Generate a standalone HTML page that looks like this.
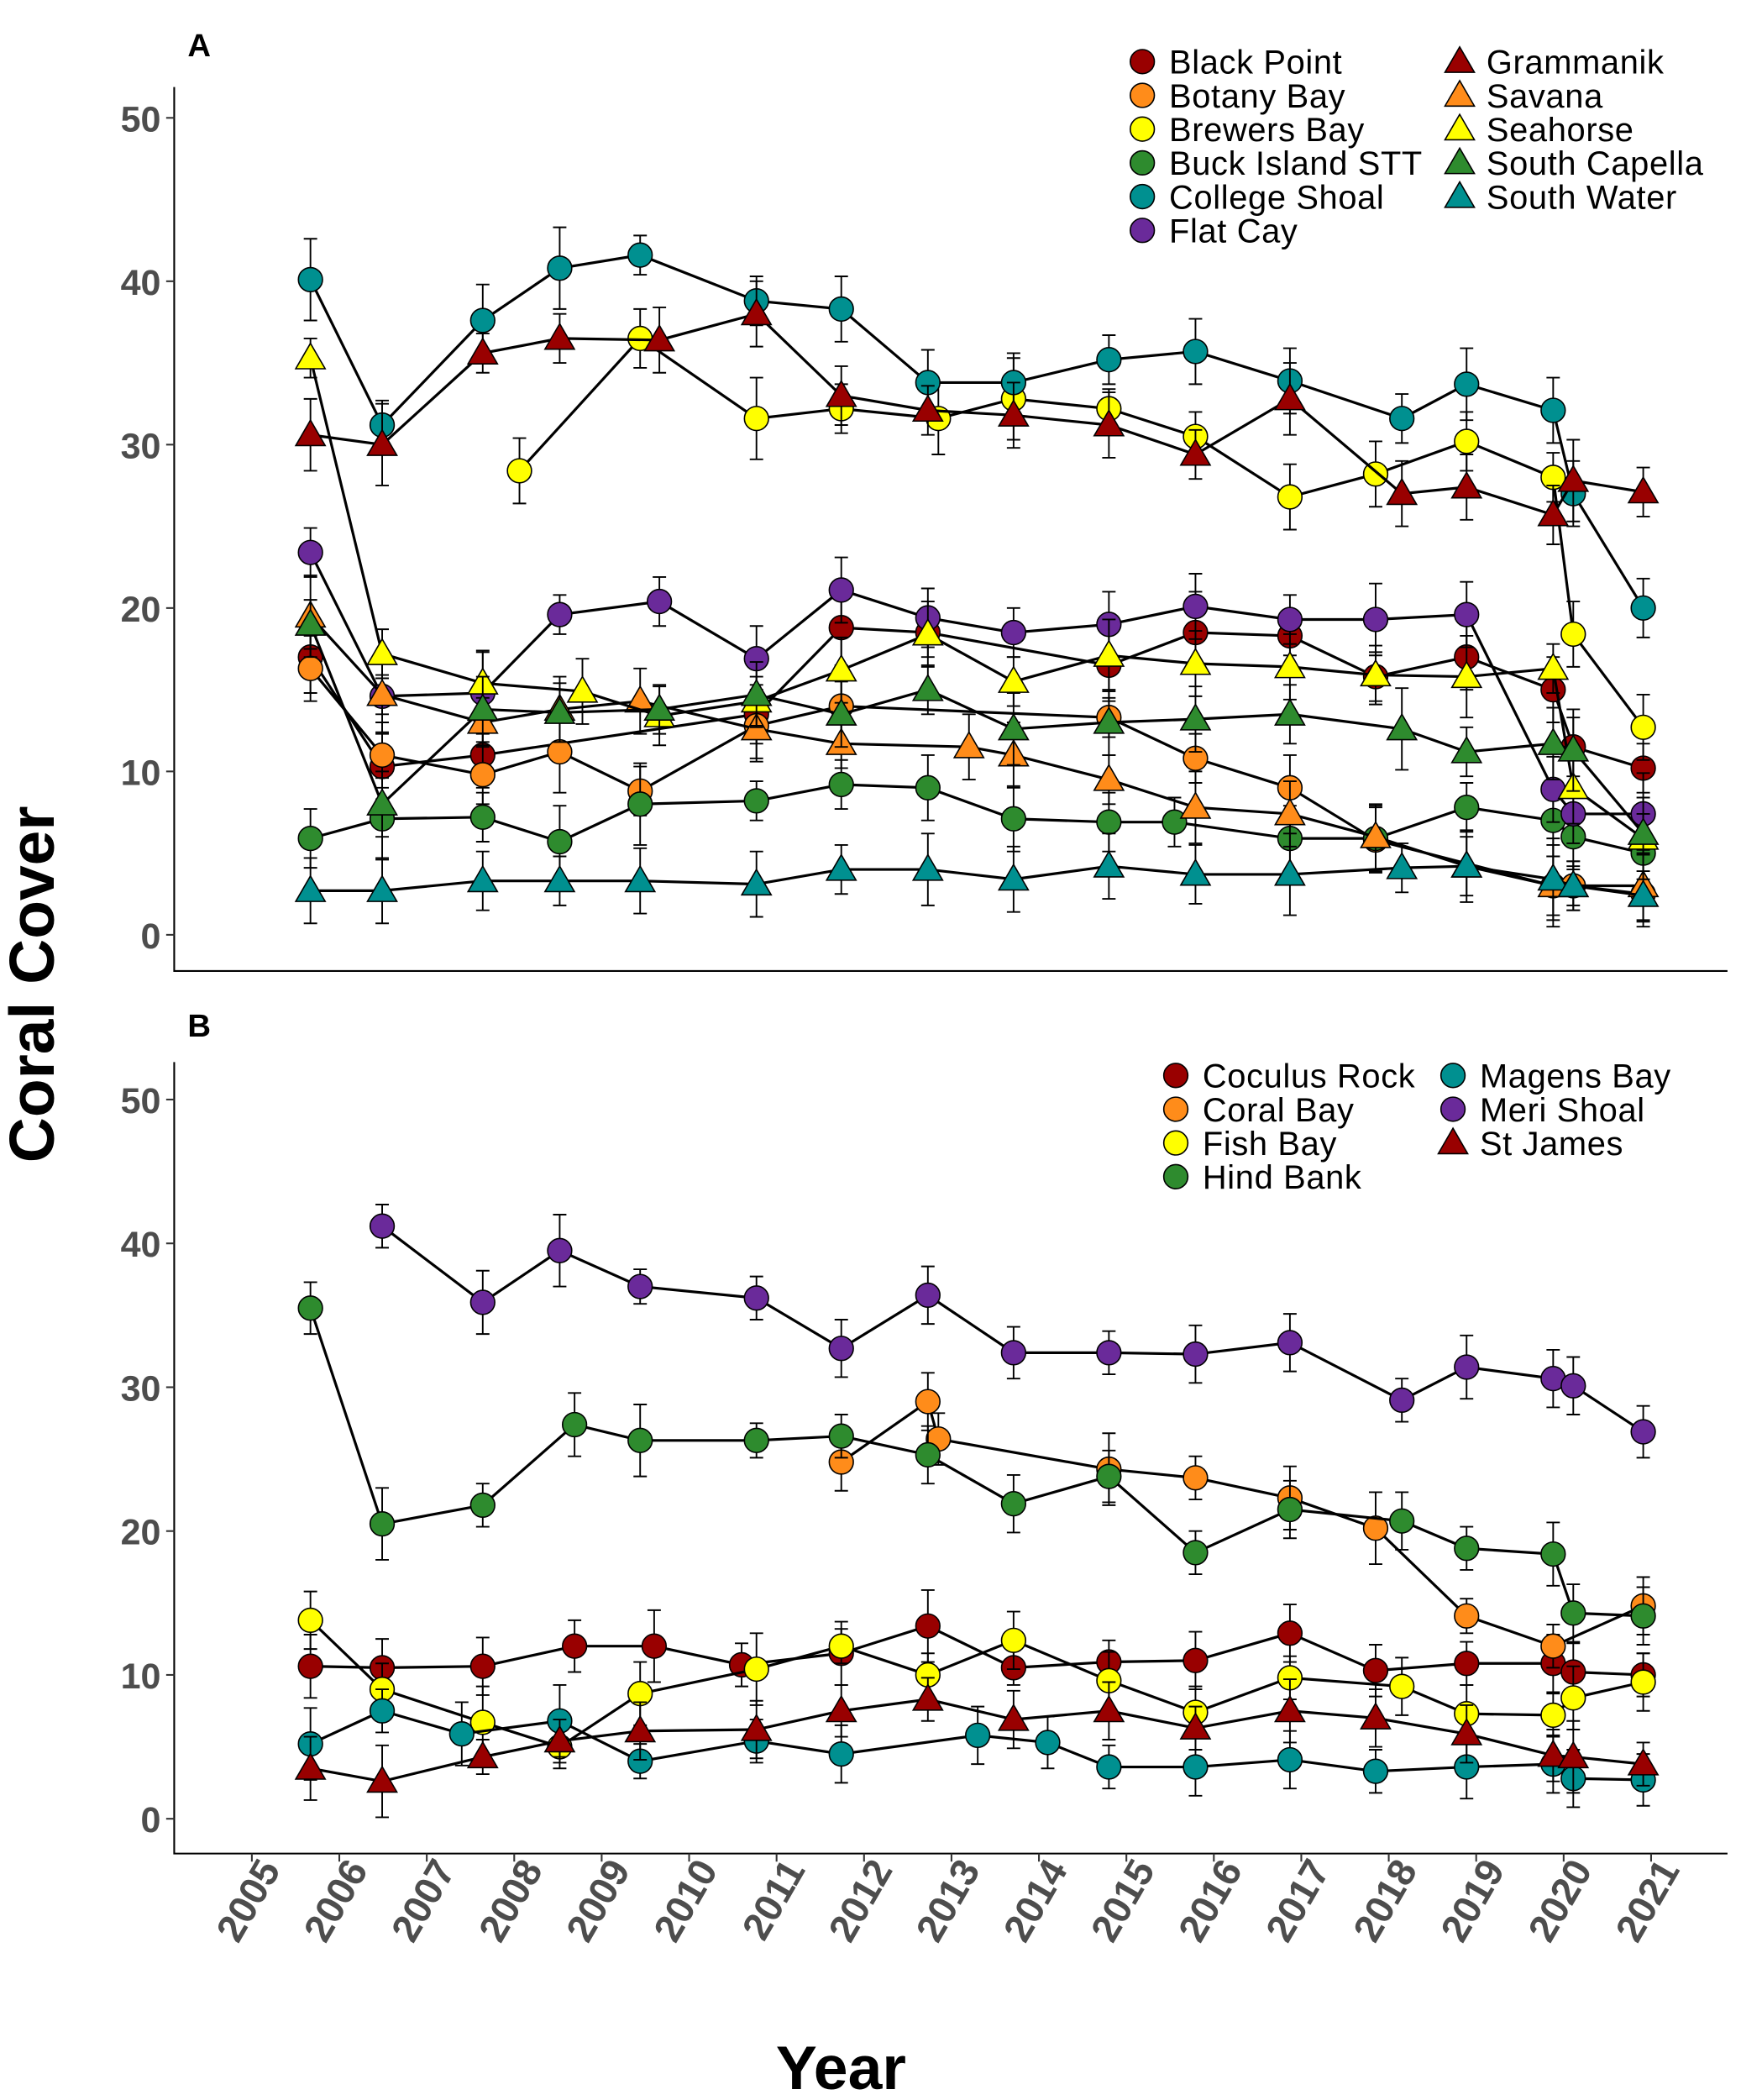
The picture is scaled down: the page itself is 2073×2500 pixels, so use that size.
<!DOCTYPE html>
<html><head><meta charset="utf-8"><style>
html,body{margin:0;padding:0;background:#fff}
svg{display:block}
text{font-family:"Liberation Sans",Arial,sans-serif}
</style></head><body>
<svg id="chart" width="2073" height="2500" viewBox="0 0 1300 1568" xmlns="http://www.w3.org/2000/svg">
<rect width="1300" height="1568" fill="#fff"/>
<text x="140" y="42" font-size="24" font-weight="bold">A</text>
<text x="140" y="774" font-size="24" font-weight="bold">B</text>
<text transform="translate(40,735) rotate(-90)" text-anchor="middle" font-size="47" font-weight="bold">Coral Cover</text>
<text x="628" y="1560" text-anchor="middle" font-size="46" font-weight="bold">Year</text>
<g id="gA"></g>
<g id="gB"></g>
</svg>
<script>
const yTicks=[0,10,20,30,40,50];
const xTickYears=[2005,2006,2007,2008,2009,2010,2011,2012,2013,2014,2015,2016,2017,2018,2019,2020,2021];
// Panel A data
const aBlackPointX=[2005.67,2006.49,2007.64,2010.77,2011.74,2012.73,2014.8,2015.79,2016.87,2017.85,2018.89,2019.88,2020.11,2020.91];
const aBlackPointY=[17,10.3,11,13.5,18.8,18.5,16.5,18.5,18.3,15.8,17,15,11.5,10.2];
const aBotanyX=[2005.67,2006.49,2007.64,2008.52,2009.44,2010.77,2011.74,2014.8,2015.79,2016.87,2017.85,2019.88,2020.11,2020.91];
const aBotanyY=[16.3,11,9.8,11.2,8.8,12.8,14,13.3,10.8,9,5.8,3,3,2.5];
const aBrewersX=[2008.06,2009.44,2010.77,2011.74,2012.85,2013.71,2014.8,2015.79,2016.87,2017.85,2018.89,2019.88,2020.11,2020.91];
const aBrewersY=[28.4,36.5,31.6,32.2,31.6,32.8,32.2,30.5,26.8,28.2,30.2,28,18.4,12.7];
const aBuckX=[2005.67,2006.49,2007.64,2008.52,2009.44,2010.77,2011.74,2012.73,2013.71,2014.8,2015.55,2016.87,2017.85,2018.89,2019.88,2020.11,2020.91];
const aBuckY=[5.9,7.1,7.2,5.7,8,8.2,9.2,9,7.1,6.9,6.9,5.9,5.9,7.8,7,6,5];
const aCollegeX=[2005.67,2006.49,2007.64,2008.52,2009.44,2010.77,2011.74,2012.73,2013.71,2014.8,2015.79,2016.87,2018.15,2018.89,2019.88,2020.11,2020.91];
const aCollegeY=[40.1,31.2,37.6,40.8,41.6,38.8,38.3,33.8,33.8,35.2,35.7,33.9,31.6,33.7,32.1,27,20];
const aFlatCayX=[2005.67,2006.49,2007.64,2008.52,2009.66,2010.77,2011.74,2012.73,2013.71,2014.8,2015.79,2016.87,2017.85,2018.89,2019.88,2020.11,2020.91];
const aFlatCayY=[23.4,14.6,14.8,19.6,20.4,16.9,21.1,19.4,18.5,19,20.1,19.3,19.3,19.6,8.9,7.4,7.4];
const aGrammanikX=[2005.67,2006.49,2007.64,2008.52,2009.66,2010.77,2011.74,2012.73,2013.71,2014.8,2015.79,2016.87,2018.15,2018.89,2019.88,2020.11,2020.91];
const aGrammanikY=[30.6,30,35.6,36.5,36.4,38,33,32.1,31.8,31.2,29.4,32.8,27,27.4,25.7,27.8,27.1];
const aSavanaX=[2005.67,2006.49,2007.64,2008.52,2009.44,2010.77,2011.74,2013.2,2013.71,2014.8,2015.79,2016.87,2017.85,2018.89,2019.88,2020.11,2020.91];
const aSavanaY=[19.5,14.7,13,13.8,14.3,12.6,11.7,11.5,11,9.5,7.8,7.4,6,4.2,3,3,3];
const aSeahorseX=[2005.67,2006.49,2007.64,2008.78,2009.66,2010.77,2011.74,2012.73,2013.71,2014.8,2015.79,2016.87,2017.85,2018.89,2019.88,2020.11,2020.91];
const aSeahorseY=[35.3,17.2,15.4,14.9,13.4,14.3,16.2,18.4,15.5,17.1,16.6,16.4,15.9,15.8,16.3,9,5.9];
const aCapellaX=[2005.67,2006.49,2007.64,2008.52,2009.66,2010.77,2011.74,2012.73,2013.71,2014.8,2015.79,2016.87,2018.15,2018.89,2019.88,2020.11,2020.91];
const aCapellaY=[19,8,13.8,13.6,13.8,14.7,13.5,15,12.6,13,13.2,13.5,12.6,11.2,11.7,11.3,6.2];
const aSouthWaterX=[2005.67,2006.49,2007.64,2008.52,2009.44,2010.77,2011.74,2012.73,2013.71,2014.8,2015.79,2016.87,2018.15,2018.89,2019.88,2020.11,2020.91];
const aSouthWaterY=[2.7,2.7,3.3,3.3,3.3,3.1,4,4,3.4,4.2,3.7,3.7,4.1,4.2,3.4,3,2.4];
// Panel B data
const bCoculusX=[2005.67,2006.49,2007.64,2008.69,2009.6,2010.6,2011.74,2012.73,2013.71,2014.8,2015.79,2016.87,2017.85,2018.89,2019.88,2020.11,2020.91];
const bCoculusY=[10.6,10.5,10.6,12,12,10.7,11.5,13.4,10.5,10.9,11,12.9,10.3,10.8,10.8,10.2,10];
const bCoralBayX=[2011.74,2012.73,2012.85,2014.8,2015.79,2016.87,2017.85,2018.89,2019.88,2020.91];
const bCoralBayY=[24.8,29,26.4,24.3,23.7,22.3,20.2,14.1,12,14.8];
const bFishBayX=[2005.67,2006.49,2007.64,2008.52,2009.44,2010.77,2011.74,2012.73,2013.71,2014.8,2015.79,2016.87,2018.15,2018.89,2019.88,2020.11,2020.91];
const bFishBayY=[13.8,9,6.7,5,8.7,10.4,12,10,12.4,9.6,7.4,9.8,9.2,7.3,7.2,8.4,9.5];
const bHindX=[2005.67,2006.49,2007.64,2008.69,2009.44,2010.77,2011.74,2012.73,2013.71,2014.8,2015.79,2016.87,2018.15,2018.89,2019.88,2020.11,2020.91];
const bHindY=[35.5,20.5,21.8,27.4,26.3,26.3,26.6,25.3,21.9,23.8,18.5,21.5,20.7,18.8,18.4,14.3,14.1];
const bMagensX=[2005.67,2006.49,2007.4,2008.52,2009.44,2010.77,2011.74,2013.3,2014.1,2014.8,2015.79,2016.87,2017.85,2018.89,2019.88,2020.11,2020.91];
const bMagensY=[5.2,7.5,5.9,6.8,4,5.4,4.5,5.8,5.3,3.6,3.6,4.1,3.3,3.6,3.8,2.8,2.7];
const bMeriX=[2006.49,2007.64,2008.52,2009.44,2010.77,2011.74,2012.73,2013.71,2014.8,2015.79,2016.87,2018.15,2018.89,2019.88,2020.11,2020.91];
const bMeriY=[41.2,35.9,39.5,37,36.2,32.7,36.4,32.4,32.4,32.3,33.1,29.1,31.4,30.6,30.1,26.9];
const bStJamesX=[2005.67,2006.49,2007.64,2008.52,2009.44,2010.77,2011.74,2012.73,2013.71,2014.8,2015.79,2016.87,2017.85,2018.89,2019.88,2020.11,2020.91];
const bStJamesY=[3.5,2.6,4.3,5.4,6.1,6.2,7.5,8.3,6.9,7.5,6.3,7.5,7,5.9,4.4,4.3,3.8];
const errA=[2.2,2,2,1.8,2.5,1.5,2.2,2.5,1.2,1.5,2,2,1.8,1.5,2,2,1.5];

const DR='#990000',OR='#FF8C1A',YE='#FFFF00',GR='#2E8B2E',TE='#009090',PU='#6A2A9A';
const seriesA=[
 {n:'Black Point',x:aBlackPointX,y:aBlackPointY,c:DR,s:'c'},
 {n:'Botany Bay',x:aBotanyX,y:aBotanyY,c:OR,s:'c'},
 {n:'Brewers Bay',x:aBrewersX,y:aBrewersY,c:YE,s:'c'},
 {n:'Buck Island STT',x:aBuckX,y:aBuckY,c:GR,s:'c'},
 {n:'College Shoal',x:aCollegeX,y:aCollegeY,c:TE,s:'c'},
 {n:'Flat Cay',x:aFlatCayX,y:aFlatCayY,c:PU,s:'c'},
 {n:'Grammanik',x:aGrammanikX,y:aGrammanikY,c:DR,s:'t'},
 {n:'Savana',x:aSavanaX,y:aSavanaY,c:OR,s:'t'},
 {n:'Seahorse',x:aSeahorseX,y:aSeahorseY,c:YE,s:'t'},
 {n:'South Capella',x:aCapellaX,y:aCapellaY,c:GR,s:'t'},
 {n:'South Water',x:aSouthWaterX,y:aSouthWaterY,c:TE,s:'t'}];
const seriesB=[
 {n:'Coculus Rock',x:bCoculusX,y:bCoculusY,c:DR,s:'c'},
 {n:'Coral Bay',x:bCoralBayX,y:bCoralBayY,c:OR,s:'c'},
 {n:'Fish Bay',x:bFishBayX,y:bFishBayY,c:YE,s:'c'},
 {n:'Hind Bank',x:bHindX,y:bHindY,c:GR,s:'c'},
 {n:'Magens Bay',x:bMagensX,y:bMagensY,c:TE,s:'c'},
 {n:'Meri Shoal',x:bMeriX,y:bMeriY,c:PU,s:'c'},
 {n:'St James',x:bStJamesX,y:bStJamesY,c:DR,s:'t'}];

const NS='http://www.w3.org/2000/svg';
function mk(tag,at,parent){const e=document.createElementNS(NS,tag);for(const k in at)e.setAttribute(k,at[k]);parent.appendChild(e);return e;}
const xScale=yr=>188+(yr-2005)*65.31;
function slug(s){return s.toLowerCase().replace(/[^a-z0-9]+/g,'-');}

function panel(g,series,y0,pxPer10,top,bottom,leg,showX){
 const ys=v=>y0-v*pxPer10/10;
 const ax=mk('path',{d:`M130 ${top} V${bottom} H1290`,stroke:'#000','stroke-width':1.3,fill:'none'},g);
 
 
 yTicks.forEach(t=>{
  const tk=mk('line',{x1:124,x2:130,y1:ys(t),y2:ys(t),stroke:'#333','stroke-width':1.3},g);
  
  
  const tl=mk('text',{x:120,y:ys(t)+10,'text-anchor':'end','font-size':27,'font-weight':'bold',fill:'#4d4d4d'},g);
  tl.textContent=t;
  
  
 });
 if(showX){xTickYears.forEach(yr=>{
  const xx=xScale(yr);
  const tk=mk('line',{x1:xx,x2:xx,y1:bottom,y2:bottom+6,stroke:'#333','stroke-width':1.3},g);
  
  
  const tl=mk('text',{transform:`translate(${xx+22},${bottom+12}) rotate(-60)`,'text-anchor':'end','font-size':29,'font-weight':'bold',fill:'#4d4d4d'},g);
  tl.textContent=yr;
  
  
 });}
 series.forEach((s,si)=>{
  const sg=mk('g',{},g);
  
  
  const pts=s.x.map((v,i)=>xScale(v)+','+ys(s.y[i])).join(' ');
  mk('polyline',{points:pts,fill:'none',stroke:'#000','stroke-width':2},sg);
  s.x.map((v,i)=>{
   const e=errA[(i+si)%errA.length];
   const cx=xScale(v);
   mk('path',{d:`M${cx} ${ys(s.y[i]-e)} V${ys(s.y[i]+e)} M${cx-5} ${ys(s.y[i]-e)} H${cx+5} M${cx-5} ${ys(s.y[i]+e)} H${cx+5}`,stroke:'#000','stroke-width':1.2,fill:'none'},sg);
  });
  s.x.forEach((v,i)=>{
   const cx=xScale(v),cy=ys(s.y[i]);
   let m;
   if(s.s==='c') m=mk('circle',{cx:cx,cy:cy,r:9,fill:s.c,stroke:'#000','stroke-width':1},sg);
   else m=mk('polygon',{points:`${cx},${cy-11} ${cx-11},${cy+8} ${cx+11},${cy+8}`,fill:s.c,stroke:'#000','stroke-width':1},sg);
   
   
  });
 });
 // legend
 const lg=mk('g',{},g);
 
 
 series.forEach((s,i)=>{
  const col=i<leg.perCol?0:1, row=col?i-leg.perCol:i;
  const lx=col?leg.x2:leg.x1, ly=leg.y+row*25.2;
  const eg=mk('g',{},lg);
  
  
  if(s.s==='c') mk('circle',{cx:lx,cy:ly,r:9,fill:s.c,stroke:'#000','stroke-width':1},eg);
  else mk('polygon',{points:`${lx},${ly-11} ${lx-11},${ly+8} ${lx+11},${ly+8}`,fill:s.c,stroke:'#000','stroke-width':1},eg);
  const t=mk('text',{x:lx+20,y:ly+9,'font-size':25,'letter-spacing':0.4},eg);
  t.textContent=s.n;
 });
}
panel(document.getElementById('gA'),seriesA,698,122,65,725,{x1:853,x2:1090,y:46,perCol:6},false);
panel(document.getElementById('gB'),seriesB,1358,107.4,793,1384,{x1:878,x2:1085,y:803,perCol:4},true);
</script>
</body></html>
